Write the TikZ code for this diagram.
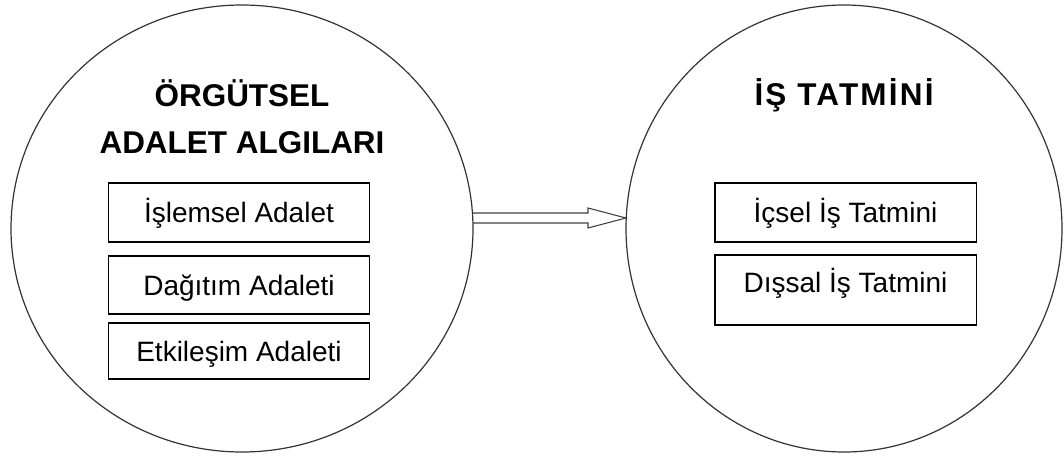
\documentclass[tikz,border=0pt]{standalone}
\usepackage{fontspec}
\setmainfont{Liberation Sans}
\usetikzlibrary{shapes.geometric,calc}

\tikzset{
  bubble/.style={ellipse, draw=black!80, line width=0.9pt, inner sep=0pt, outer sep=0pt,
    minimum height=335.25pt},
  headline/.style={font=\fontsize{23.6}{35.25}\selectfont\bfseries, align=center, inner sep=0pt},
  itembox/.style={draw=black, line width=1pt, inner xsep=0pt, inner ysep=0pt,
    minimum width=196pt, text height=15pt, text depth=0pt,
    font=\fontsize{21}{25}\selectfont},
  hollowarrow/.style={draw=black!75, line width=0.8pt, line join=miter}
}

\begin{document}
\begin{tikzpicture}[x=0.75pt, y=-0.75pt]
  \useasboundingbox (0,0) rectangle (1064,457);

  % the two groups
  \node[bubble, minimum width=346.5pt] (L) at (242,228.5) {};
  \node[bubble, minimum width=327pt]   (R) at (844,228.5) {};

  % left group: title and dimensions
  \node[headline] (lt) at (242,116.5) {ÖRGÜTSEL\\ADALET ALGILARI};
  \node[itembox, minimum height=44.25pt] (l1) at (239,212.5) {İşlemsel Adalet};
  \node[itembox, minimum height=43.5pt]  (l2) at (239,285)   {Dağıtım Adaleti};
  \node[itembox, minimum height=42pt]    (l3) at (239,351)   {Etkileşim Adaleti};

  % right group: title (slightly tracked) and dimensions
  \node[headline] (rt) at (844,95.5) {\addfontfeatures{LetterSpace=7}İŞ TATMİNİ};
  \node[itembox, minimum height=44.25pt] (r1) at (845.5,212.5) {İçsel İş Tatmini};
  \node[itembox, minimum height=52.5pt, text depth=12pt] (r2) at (845.5,290) {Dışsal İş Tatmini};

  % hollow block arrow between the groups
  \coordinate (tail) at ($(L.east)+(0,-10.5)$);
  \coordinate (tip)  at ($(R.west)+(0,-10.5)$);
  \draw[hollowarrow]
    ($(tail)+(0,-5)$) -- ($(tip)+(-38,-5)$) -- ($(tip)+(-38,-10)$) -- (tip)
    -- ($(tip)+(-38,10)$) -- ($(tip)+(-38,5)$) -- ($(tail)+(0,5)$);
\end{tikzpicture}
\end{document}
